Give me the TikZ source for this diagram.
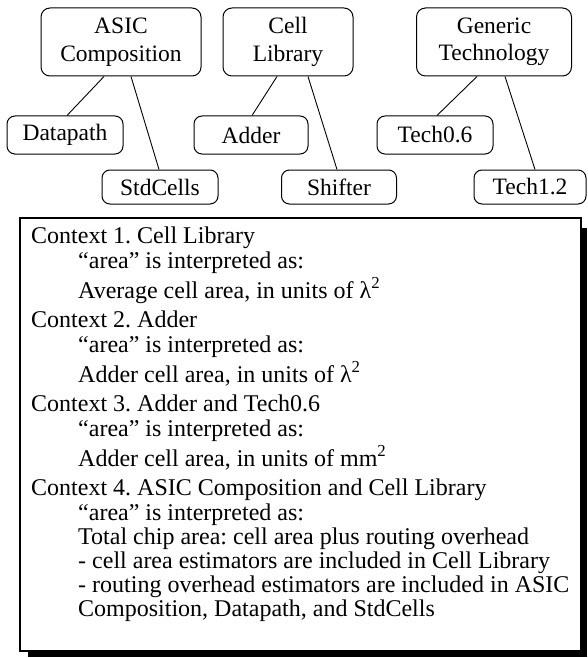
\documentclass[tikz,border=0pt]{standalone}
\usepackage{fontspec}
\setmainfont{Liberation Serif}
\usetikzlibrary{calc}

\tikzset{
  groupbox/.style={draw, line width=1pt, rounded corners=9pt, align=center,
    minimum width=160pt, minimum height=68pt, inner sep=0pt,
    font=\fontsize{23.5}{27.5}\selectfont},
  leafbox/.style={draw, line width=1pt, rounded corners=8pt,
    minimum height=38pt, inner sep=0pt,
    font=\fontsize{23.5}{27.5}\selectfont},
  link/.style={line width=0.9pt},
  ctxline/.style={anchor=base west, inner sep=0pt,
    font=\fontsize{24}{26}\selectfont\frenchspacing},
}

\begin{document}
\begin{tikzpicture}[x=1pt, y=-1pt]
\useasboundingbox (0,0) rectangle (587,658);

% group nodes
\node[groupbox] (asic) at (121,42) {ASIC\\Composition};
\node[groupbox, minimum width=130pt] (cell) at (288,42) {Cell\\Library};
\node[groupbox, minimum width=155pt] (gen) at (494,42) {Generic\\Technology};

% members
\node[leafbox, minimum width=116pt] (dp) at (65,135) {Datapath};
\node[leafbox, minimum width=114pt] (add) at (251,135) {Adder};
\node[leafbox, minimum width=116pt] (t06) at (435,135) {Tech0.6};
\node[leafbox, minimum width=116pt, minimum height=34pt] (std) at (160,187) {StdCells};
\node[leafbox, minimum width=115pt, minimum height=34pt] (sh) at (339,187) {Shifter};
\node[leafbox, minimum width=112pt, minimum height=34pt] (t12) at (530,187) {Tech1.2};

% membership links
\draw[link] ($(asic.south)+(-17,0)$) -- ($(dp.north)+(2,0)$);
\draw[link] ($(asic.south)+(10,0)$) -- ($(std.north)+(-1,0)$);
\draw[link] ($(cell.south)+(-11,0)$) -- ($(add.north)+(1,0)$);
\draw[link] ($(cell.south)+(20,0)$) -- ($(sh.north)+(-2,0)$);
\draw[link] ($(gen.south)+(-17,0)$) -- ($(t06.north)+(2,0)$);
\draw[link] ($(gen.south)+(11,0)$) -- ($(t12.north)+(5,0)$);

% context panel with drop shadow
\fill[black] (28,228) rectangle (587,657);
\draw[fill=white, line width=1.2pt] (20,218) rectangle (581,651);

\node[ctxline] (c1)  at (31,243) {Context 1. Cell Library};
\node[ctxline] (c1a) at (78,268) {“area” is interpreted as:};
\node[ctxline] (c1b) at (78,298) {Average cell area, in units of λ\textsuperscript{2}};
\node[ctxline] (c2)  at (31,327) {Context 2. Adder};
\node[ctxline] (c2a) at (78,352) {“area” is interpreted as:};
\node[ctxline] (c2b) at (78,382) {Adder cell area, in units of λ\textsuperscript{2}};
\node[ctxline] (c3)  at (31,411) {Context 3. Adder and Tech0.6};
\node[ctxline] (c3a) at (78,436) {“area” is interpreted as:};
\node[ctxline] (c3b) at (78,466) {Adder cell area, in units of mm\textsuperscript{2}};
\node[ctxline] (c4)  at (31,495) {Context 4. ASIC Composition and Cell Library};
\node[ctxline] (c4a) at (78,520) {“area” is interpreted as:};
\node[ctxline] (c4b) at (78,544) {Total chip area: cell area plus routing overhead};
\node[ctxline] (c4c) at (78,568) {- cell area estimators are included in Cell Library};
\node[ctxline] (c4d) at (78,592) {- routing overhead estimators are included in ASIC};
\node[ctxline] (c4e) at (78,616) {Composition, Datapath, and StdCells};
\end{tikzpicture}
\end{document}
